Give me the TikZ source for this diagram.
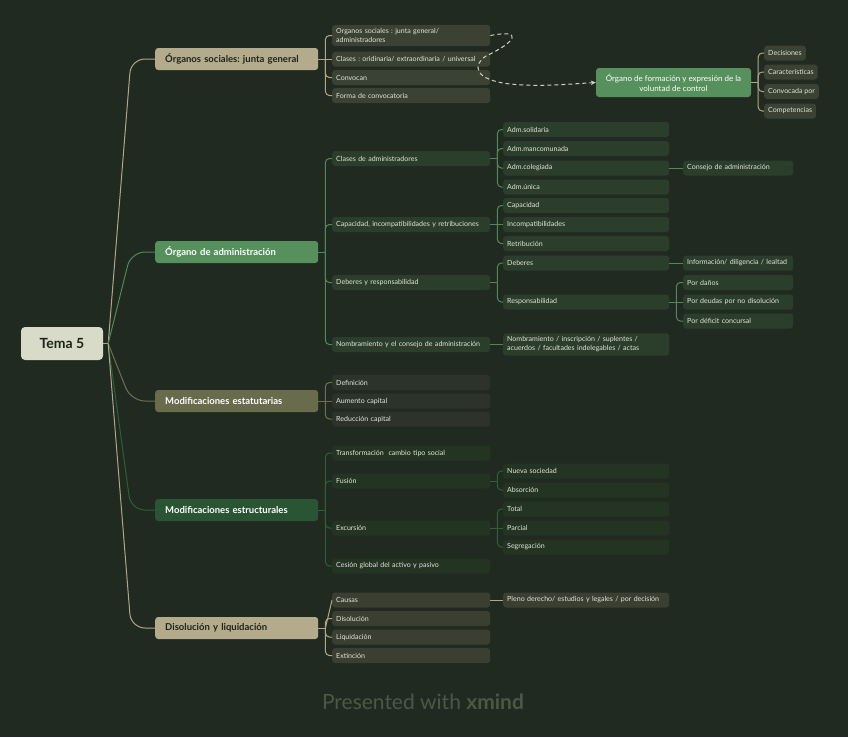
\documentclass[tikz,border=0pt]{standalone}
\usepackage{fontspec}
\setmainfont{Lato}
\usetikzlibrary{calc,arrows.meta}
\definecolor{bg}{HTML}{212A20}
\definecolor{rootc}{HTML}{D7DBC7}
\definecolor{beige}{HTML}{B4AB8C}
\definecolor{cgreen}{HTML}{56905C}
\definecolor{olive}{HTML}{686C4D}
\definecolor{dgreen}{HTML}{2A5534}
\definecolor{txt}{HTML}{E2E4DA}
\definecolor{dtxt}{HTML}{1E231B}
\definecolor{boxA}{HTML}{3B4133}
\definecolor{boxB}{HTML}{2B3D2B}
\definecolor{boxC}{HTML}{2E3329}
\definecolor{boxD}{HTML}{243423}
\definecolor{boxE}{HTML}{3A3F31}
\definecolor{lnA}{HTML}{B0A787}
\definecolor{lnB}{HTML}{4E8A56}
\definecolor{lnC}{HTML}{6C7050}
\definecolor{lnD}{HTML}{2C6035}
\definecolor{wmc}{HTML}{4A5946}
\definecolor{dashc}{HTML}{D0D1C5}
\newcommand\mybra[3]{%
  \draw[#1] (#2.east) -- ++(7,0) coordinate (#2j);
  \foreach \cc in {#3} {\draw[#1, rounded corners=4pt] (#2j) |- (\cc.west);}
}
\begin{document}
\frenchspacing
\hyphenpenalty=10000
\begin{tikzpicture}[x=1pt,y=-1pt,
  every node/.style={text=txt, font=\fontsize{7.05}{9}\selectfont},
  cbox/.style={rounded corners=3pt, inner xsep=4pt, inner ysep=0pt, minimum height=15pt,
     anchor=west, align=left, text width=#1},
  tbox/.style={cbox=#1, inner ysep=3.5pt},
  fbox/.style={rounded corners=3pt, inner xsep=4pt, inner ysep=0pt, minimum height=15pt, anchor=west, fill=boxA},
  mbox/.style={rounded corners=3pt, anchor=west, minimum width=163pt, minimum height=22pt,
     inner xsep=10pt, inner ysep=0pt, text width=143pt, align=left,
     font=\bfseries\fontsize{9.5}{11}\selectfont},
  rootbox/.style={rounded corners=4pt, minimum width=82pt, minimum height=33pt, fill=rootc,
     text=dtxt, font=\bfseries\fontsize{14}{16}\selectfont},
  lA/.style={draw=lnA, line width=1pt},
  lB/.style={draw=lnB, line width=1pt},
  lC/.style={draw=lnC, line width=1pt},
  lD/.style={draw=lnD, line width=1pt},
  dashcon/.style={draw=dashc, line width=1pt, dash pattern=on 4pt off 3pt, -{Stealth[length=5pt,width=4.5pt]}}
]
\fill[bg] (0,0) rectangle (848,737);
\useasboundingbox (0,0) rectangle (848,737);

% root
\node[rootbox] (root) at (62,343.5) {Tema 5};

% main nodes
\node[mbox, fill=beige, text=dtxt] (os) at (155,59) {Órganos sociales: junta general};
\node[mbox, fill=cgreen, text=white] (ad) at (155,252) {Órgano de administración};
\node[mbox, fill=olive, text=white] (me) at (155,401) {Modificaciones estatutarias};
\node[mbox, fill=dgreen, text=white] (mx) at (155,510) {Modificaciones estructurales};
\node[mbox, fill=beige, text=dtxt] (dl) at (155,628) {Disolución y liquidación};

% branch 1
\node[tbox=150pt, fill=boxA] (os1) at (332,35.5) {Organos sociales : junta general/\\administradores};
\node[cbox=150pt, fill=boxA] (os2) at (332,59) {Clases : oridinaria/ extraordinaria / universal};
\node[cbox=150pt, fill=boxA] (os3) at (332,77.5) {Convocan};
\node[cbox=150pt, fill=boxA] (os4) at (332,95.5) {Forma de convocatoria};

\node[rounded corners=3pt, fill=cgreen, text=white, minimum width=155pt, minimum height=29pt,
  inner ysep=0pt, align=center, font=\fontsize{8}{10}\selectfont] (fo) at (673.5,82.5)
  {Órgano de formación y expresión de la\\voluntad de control};
\node[fbox] (fo1) at (764,53) {Decisiones};
\node[fbox] (fo2) at (764,72) {Características};
\node[fbox] (fo3) at (764,91.5) {Convocada por};
\node[fbox] (fo4) at (764,111) {Competencias};

% branch 2
\node[cbox=150pt, fill=boxB] (ad1) at (332,158.5) {Clases de administradores};
\node[cbox=150pt, fill=boxB] (ad2) at (332,224.5) {Capacidad, incompatibilidades y retribuciones};
\node[cbox=150pt, fill=boxB] (ad3) at (332,282.5) {Deberes y responsabilidad};
\node[cbox=150pt, fill=boxB] (ad4) at (332,344.5) {Nombramiento y el consejo de administración};

\node[cbox=158pt, fill=boxB] (ad11) at (503,129.5) {Adm.solidaria};
\node[cbox=158pt, fill=boxB] (ad12) at (503,148.5) {Adm.mancomunada};
\node[cbox=158pt, fill=boxB] (ad13) at (503,168) {Adm.colegiada};
\node[cbox=158pt, fill=boxB] (ad14) at (503,187) {Adm.única};
\node[cbox=102pt, fill=boxB] (ad131) at (683,168) {Consejo de administración};

\node[cbox=158pt, fill=boxB] (ad21) at (503,205.5) {Capacidad};
\node[cbox=158pt, fill=boxB] (ad22) at (503,224.5) {Incompatibilidades};
\node[cbox=158pt, fill=boxB] (ad23) at (503,243.5) {Retribución};

\node[cbox=158pt, fill=boxB] (ad31) at (503,263) {Deberes};
\node[cbox=158pt, fill=boxB] (ad32) at (503,302) {Responsabilidad};
\node[cbox=102pt, fill=boxB] (ad311) at (683,263) {Información/ diligencia / lealtad};
\node[cbox=102pt, fill=boxB] (ad321) at (683,282.5) {Por daños};
\node[cbox=102pt, fill=boxB] (ad322) at (683,302) {Por deudas por no disolución};
\node[cbox=102pt, fill=boxB] (ad323) at (683,321) {Por déficit concursal};

\node[tbox=158pt, fill=boxB] (ad41) at (503,344.5) {Nombramiento / inscripción / suplentes /\\acuerdos / facultades indelegables / actas};

% branch 3
\node[cbox=150pt, fill=boxC] (me1) at (332,382.5) {Definición};
\node[cbox=150pt, fill=boxC] (me2) at (332,401) {Aumento capital};
\node[cbox=150pt, fill=boxC] (me3) at (332,419) {Reducción capital};

% branch 4
\node[cbox=150pt, fill=boxD] (mx1) at (332,453) {Transformación\ \ cambio tipo social};
\node[cbox=150pt, fill=boxD] (mx2) at (332,481) {Fusión};
\node[cbox=150pt, fill=boxD] (mx3) at (332,528) {Excursión};
\node[cbox=150pt, fill=boxD] (mx4) at (332,566) {Cesión global del activo y pasivo};
\node[cbox=158pt, fill=boxD] (mx21) at (503,471) {Nueva sociedad};
\node[cbox=158pt, fill=boxD] (mx22) at (503,490) {Absorción};
\node[cbox=158pt, fill=boxD] (mx31) at (503,509) {Total};
\node[cbox=158pt, fill=boxD] (mx32) at (503,528) {Parcial};
\node[cbox=158pt, fill=boxD] (mx33) at (503,547) {Segregación};

% branch 5
\node[cbox=150pt, fill=boxE] (dl1) at (332,600) {Causas};
\node[cbox=150pt, fill=boxE] (dl2) at (332,618.5) {Disolución};
\node[cbox=150pt, fill=boxE] (dl3) at (332,637) {Liquidación};
\node[cbox=150pt, fill=boxE] (dl4) at (332,655.5) {Extinción};
\node[cbox=158pt, fill=boxE] (dl11) at (503,600) {Pleno derecho/ estudios y legales / por decisión};

% watermark
\node[text=wmc, font=\fontsize{21}{24}\selectfont] (wm) at (423,702) {Presented with \textbf{xmind}};

% root connectors
\draw[lA] (root.east) -- ++(5,0) coordinate (rj);
\draw[lA, rounded corners=14pt] (rj) -- ($(os.west)+(-24,0)$) -- (os.west);
\draw[lB, rounded corners=14pt] (rj) -- ($(ad.west)+(-24,0)$) -- (ad.west);
\draw[lC, rounded corners=14pt] (rj) -- ($(me.west)+(-24,0)$) -- (me.west);
\draw[lD, rounded corners=14pt] (rj) -- ($(mx.west)+(-24,0)$) -- (mx.west);
\draw[lA, rounded corners=14pt] (rj) -- ($(dl.west)+(-24,0)$) -- (dl.west);

% brackets
\mybra{lA}{os}{os1,os3,os4}
\draw[lA] (osj) -- (os2.west);
\mybra{lA}{fo}{fo1,fo2,fo3,fo4}

\mybra{lB}{ad}{ad1,ad2,ad3,ad4}
\mybra{lB}{ad1}{ad11,ad12,ad13,ad14}
\mybra{lB}{ad2}{ad21,ad23}
\draw[lB] (ad2j) -- (ad22.west);
\mybra{lB}{ad3}{ad31,ad32}
\mybra{lB}{ad13}{}
\draw[lB] (ad13j) -- (ad131.west);
\mybra{lB}{ad31}{}
\draw[lB] (ad31j) -- (ad311.west);
\mybra{lB}{ad32}{ad321,ad323}
\draw[lB] (ad32j) -- (ad322.west);
\mybra{lB}{ad4}{}
\draw[lB] (ad4j) -- (ad41.west);

\mybra{lC}{me}{me1,me3}
\draw[lC] (mej) -- (me2.west);

\mybra{lD}{mx}{mx1,mx2,mx3,mx4}
\mybra{lD}{mx2}{mx21,mx22}
\mybra{lD}{mx3}{mx31,mx33}
\draw[lD] (mx3j) -- (mx32.west);

\mybra{lA}{dl}{dl2,dl3,dl4}
\draw[lA] (dlj) -- (dl1.west);
\mybra{lA}{dl1}{}
\draw[lA] (dl1j) -- (dl11.west);

% dashed relation
\draw[dashcon] (os1.east) .. controls (524,29) and (516,42) .. (486,56)
  .. controls (472,65) and (474,80) .. (510,84)
  .. controls (540,87) and (570,84) .. (fo.west);
\end{tikzpicture}
\end{document}
